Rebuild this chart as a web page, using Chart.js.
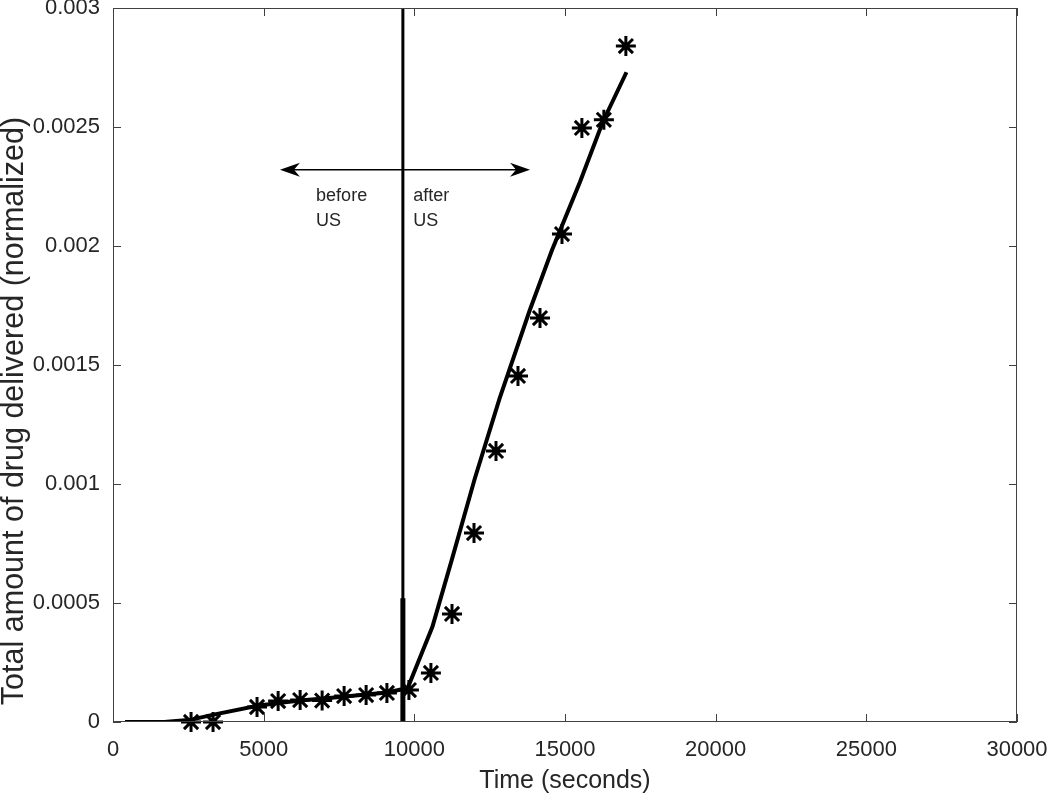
<!DOCTYPE html>
<html>
<head>
<meta charset="utf-8">
<script src="https://cdn.jsdelivr.net/npm/chart.js@4"></script>
<style>
  html, body { margin: 0; padding: 0; background: #fff; }
  canvas { display: block; }
</style>
</head>
<body>
<canvas id="drugChart" width="1050" height="798"></canvas>
<script>
// measured release (asterisks)
const sampleTimes = [2590, 3320, 4780, 5480, 6210, 6940, 7670, 8400, 9090, 9820,
  10550, 11250, 11980, 12710, 13440, 14170, 14900, 15560, 16290, 17020];
const sampleAmounts = [0, 0, 0.000063, 0.000088, 0.000092, 0.00009, 0.000109, 0.000113, 0.000122, 0.000134,
  0.000206, 0.000454, 0.000794, 0.001139, 0.001454, 0.001697, 0.00205, 0.002496, 0.00253, 0.00284];

// model fit (solid line)
const fitTimes = [400, 1700, 2600, 3300, 4800, 5500, 6200, 6900, 7700, 8400, 9100, 9780,
  10600, 11240, 12000, 12830, 13830, 14560, 15500, 16250, 17040];
const fitAmounts = [0, 0, 0.00001, 0.00003, 0.000068, 0.00008, 0.00009, 0.000098, 0.000107, 0.000116, 0.000124, 0.000143,
  0.0004, 0.00068, 0.00102, 0.00136, 0.00173, 0.00198, 0.00227, 0.00252, 0.00273];

// ultrasound switched on
const usOnTime = 9620;

const xTicks = [0, 5000, 10000, 15000, 20000, 25000, 30000];
const yTicks = [0, 0.0005, 0.001, 0.0015, 0.002, 0.0025, 0.003];
const yTickLabels = ['0', '0.0005', '0.001', '0.0015', '0.002', '0.0025', '0.003'];

const FONT = '"Liberation Sans", Arial, Helvetica, sans-serif';
const TEXT = '#262626';

function toPoints(xs, ys) {
  return xs.map((x, i) => ({ x: x, y: ys[i] }));
}

// box, inward ticks, arrow, notes and y title
const extras = {
  id: 'extras',
  afterDraw(chart) {
    const ctx = chart.ctx;
    const a = chart.chartArea;
    const xs = chart.scales.x, ys = chart.scales.y;
    ctx.save();
    ctx.strokeStyle = '#404040';
    ctx.lineWidth = 1;
    ctx.strokeRect(a.left + 0.5, a.top + 0.5, a.right - a.left - 1, a.bottom - a.top - 1);
    ctx.beginPath();
    for (const v of xTicks) {
      const px = Math.round(xs.getPixelForValue(v)) + 0.5;
      ctx.moveTo(px, a.bottom); ctx.lineTo(px, a.bottom - 8);
      ctx.moveTo(px, a.top); ctx.lineTo(px, a.top + 8);
    }
    for (const v of yTicks) {
      const py = Math.round(ys.getPixelForValue(v)) + 0.5;
      ctx.moveTo(a.left, py); ctx.lineTo(a.left + 8, py);
      ctx.moveTo(a.right, py); ctx.lineTo(a.right - 8, py);
    }
    ctx.stroke();

    // double arrow
    const ay = ys.getPixelForValue(0.00232);
    const x1 = xs.getPixelForValue(5540), x2 = xs.getPixelForValue(13840);
    ctx.strokeStyle = '#000';
    ctx.lineWidth = 1.5;
    ctx.beginPath();
    ctx.moveTo(x1 + 10, ay); ctx.lineTo(x2 - 10, ay);
    ctx.stroke();
    ctx.fillStyle = '#000';
    [[x1, 1], [x2, -1]].forEach(([tx, d]) => {
      ctx.beginPath();
      ctx.moveTo(tx, ay);
      ctx.lineTo(tx + d * 20, ay - 7);
      ctx.lineTo(tx + d * 14, ay);
      ctx.lineTo(tx + d * 20, ay + 7);
      ctx.closePath();
      ctx.fill();
    });

    // notes
    ctx.fillStyle = TEXT;
    ctx.font = '18px ' + FONT;
    ctx.textAlign = 'left';
    ctx.textBaseline = 'alphabetic';
    const b1 = ys.getPixelForValue(0.002189), b2 = ys.getPixelForValue(0.002084);
    ctx.fillText('before', xs.getPixelForValue(6740), b1);
    ctx.fillText('US', xs.getPixelForValue(6740), b2);
    ctx.fillText('after', xs.getPixelForValue(9960), b1);
    ctx.fillText('US', xs.getPixelForValue(9960), b2);

    // y axis title
    ctx.translate(15, 411);
    ctx.rotate(-Math.PI / 2);
    ctx.textAlign = 'center';
    ctx.textBaseline = 'middle';
    ctx.font = '30.5px ' + FONT;
    ctx.fillText('Total amount of drug delivered (normalized)', 0, 0);
    ctx.restore();
  }
};

const ctx = document.getElementById('drugChart').getContext('2d');
new Chart(ctx, {
  type: 'scatter',
  data: {
    datasets: [{
      label: 'US on',
      data: [{ x: usOnTime, y: 0 }, { x: usOnTime, y: 0.003 }],
      showLine: true,
      borderColor: '#000',
      borderWidth: 3,
      pointRadius: 0
    }, {
      label: 'US on (base)',
      data: [{ x: usOnTime, y: 0 }, { x: usOnTime, y: 0.00052 }],
      showLine: true,
      borderColor: '#000',
      borderWidth: 5,
      pointRadius: 0
    }, {
      label: 'Fit',
      data: toPoints(fitTimes, fitAmounts),
      showLine: true,
      borderColor: '#000',
      borderWidth: 4,
      pointRadius: 0
    }, {
      label: 'Measured',
      data: toPoints(sampleTimes, sampleAmounts),
      showLine: false,
      clip: false,
      pointStyle: 'star',
      pointRadius: 10,
      borderColor: '#000',
      backgroundColor: '#000',
      pointBorderWidth: 3
    }]
  },
  options: {
    responsive: false,
    animation: false,
    devicePixelRatio: 1,
    layout: { autoPadding: false, padding: { top: 8, right: 33, left: 0, bottom: 0 } },
    plugins: {
      legend: { display: false },
      tooltip: { enabled: false }
    },
    scales: {
      x: {
        type: 'linear',
        min: 0,
        max: 30000,
        afterBuildTicks: (s) => { s.ticks = xTicks.map(v => ({ value: v })); },
        afterFit: (s) => { s.height = 76; s.paddingLeft = 0; s.paddingRight = 0; },
        grid: { display: false, drawTicks: false },
        border: { display: false },
        ticks: {
          font: { size: 22, family: FONT },
          color: TEXT,
          padding: 15,
          maxRotation: 0,
          callback: (v) => String(v)
        },
        title: {
          display: true,
          text: 'Time (seconds)',
          font: { size: 25, family: FONT },
          color: TEXT,
          padding: { top: 0, bottom: 2 }
        }
      },
      y: {
        type: 'linear',
        min: 0,
        max: 0.003,
        afterBuildTicks: (s) => { s.ticks = yTicks.map(v => ({ value: v })); },
        afterFit: (s) => { s.width = 113; s.paddingTop = 0; s.paddingBottom = 0; },
        grid: { display: false, drawTicks: false },
        border: { display: false },
        ticks: {
          font: { size: 22, family: FONT, lineHeight: 0.6 },
          color: TEXT,
          padding: 13,
          callback: (v) => yTickLabels[yTicks.indexOf(v)]
        }
      }
    }
  },
  plugins: [extras]
});
</script>
</body>
</html>
